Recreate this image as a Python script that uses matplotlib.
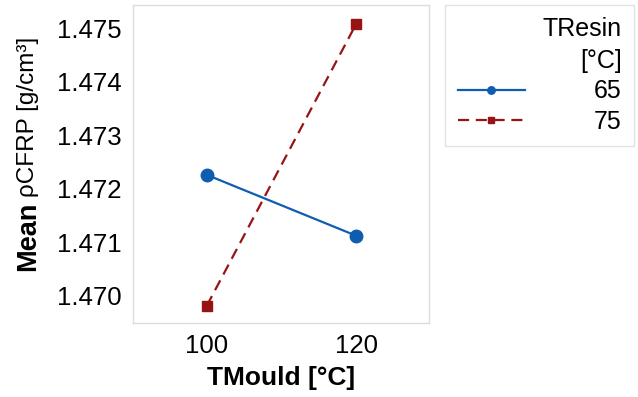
import matplotlib.pyplot as plt

plt.rcParams['font.family'] = ['Liberation Sans', 'DejaVu Sans']

# Data
t_mould = [100, 120]
resin_levels = ['65', '75']
mean_65 = [1.47226, 1.47112]
mean_75 = [1.46981, 1.47509]
y_ticks = [1.470, 1.471, 1.472, 1.473, 1.474, 1.475]

fig = plt.figure(figsize=(6.38, 3.97), dpi=100)
ax = fig.add_axes([133 / 638, 1 - 323 / 397, 296 / 638, 318 / 397])

ax.plot(t_mould, mean_65, color='#0f5db0', lw=1.6, marker='o', markersize=9,
        label=resin_levels[0])
ax.plot(t_mould, mean_75, color='#981414', lw=1.6, ls=(0, (5, 3)), marker='s',
        markersize=6.5, label=resin_levels[1])

ax.set_xlim(90.15, 129.7)
ax.set_ylim(1.46949, 1.475436)
ax.set_xticks(t_mould)
ax.set_yticks(y_ticks)
ax.set_yticklabels([f'{v:.3f}' for v in y_ticks])
ax.tick_params(length=0, labelsize=18.5, pad=8)
for s in ax.spines.values():
    s.set_color('#dcdcdc')
    s.set_linewidth(1)

ax.set_xlabel('TMould [°C]', fontsize=19, fontweight='bold', labelpad=6)

# y label: "Mean" bold, the rest normal
fig.text(28 / 638, 1 - 271 / 397, 'Mean', rotation=90, ha='center', va='bottom',
         fontsize=19.5, fontweight='bold')
fig.text(28 / 638, 1 - 197 / 397, 'ρCFRP [g/cm³]', rotation=90, ha='center',
         va='bottom', fontsize=17.5)

handles, labels = ax.get_legend_handles_labels()
leg = fig.legend(handles, labels, title='TResin\n[°C]', loc='upper left',
                 bbox_to_anchor=(445 / 638, 1 - 5 / 397), fontsize=18,
                 title_fontsize=18, alignment='right', handlelength=2.7,
                 handletextpad=2.75, labelspacing=0.25, borderpad=0.5,
                 borderaxespad=0, fancybox=False, edgecolor='#dcdcdc',
                 markerscale=0.6)
leg.get_frame().set_linewidth(1)
leg.get_title().set_multialignment('right')
leg.get_title().set_linespacing(1.4)

fig.savefig('out.png', dpi=100)
